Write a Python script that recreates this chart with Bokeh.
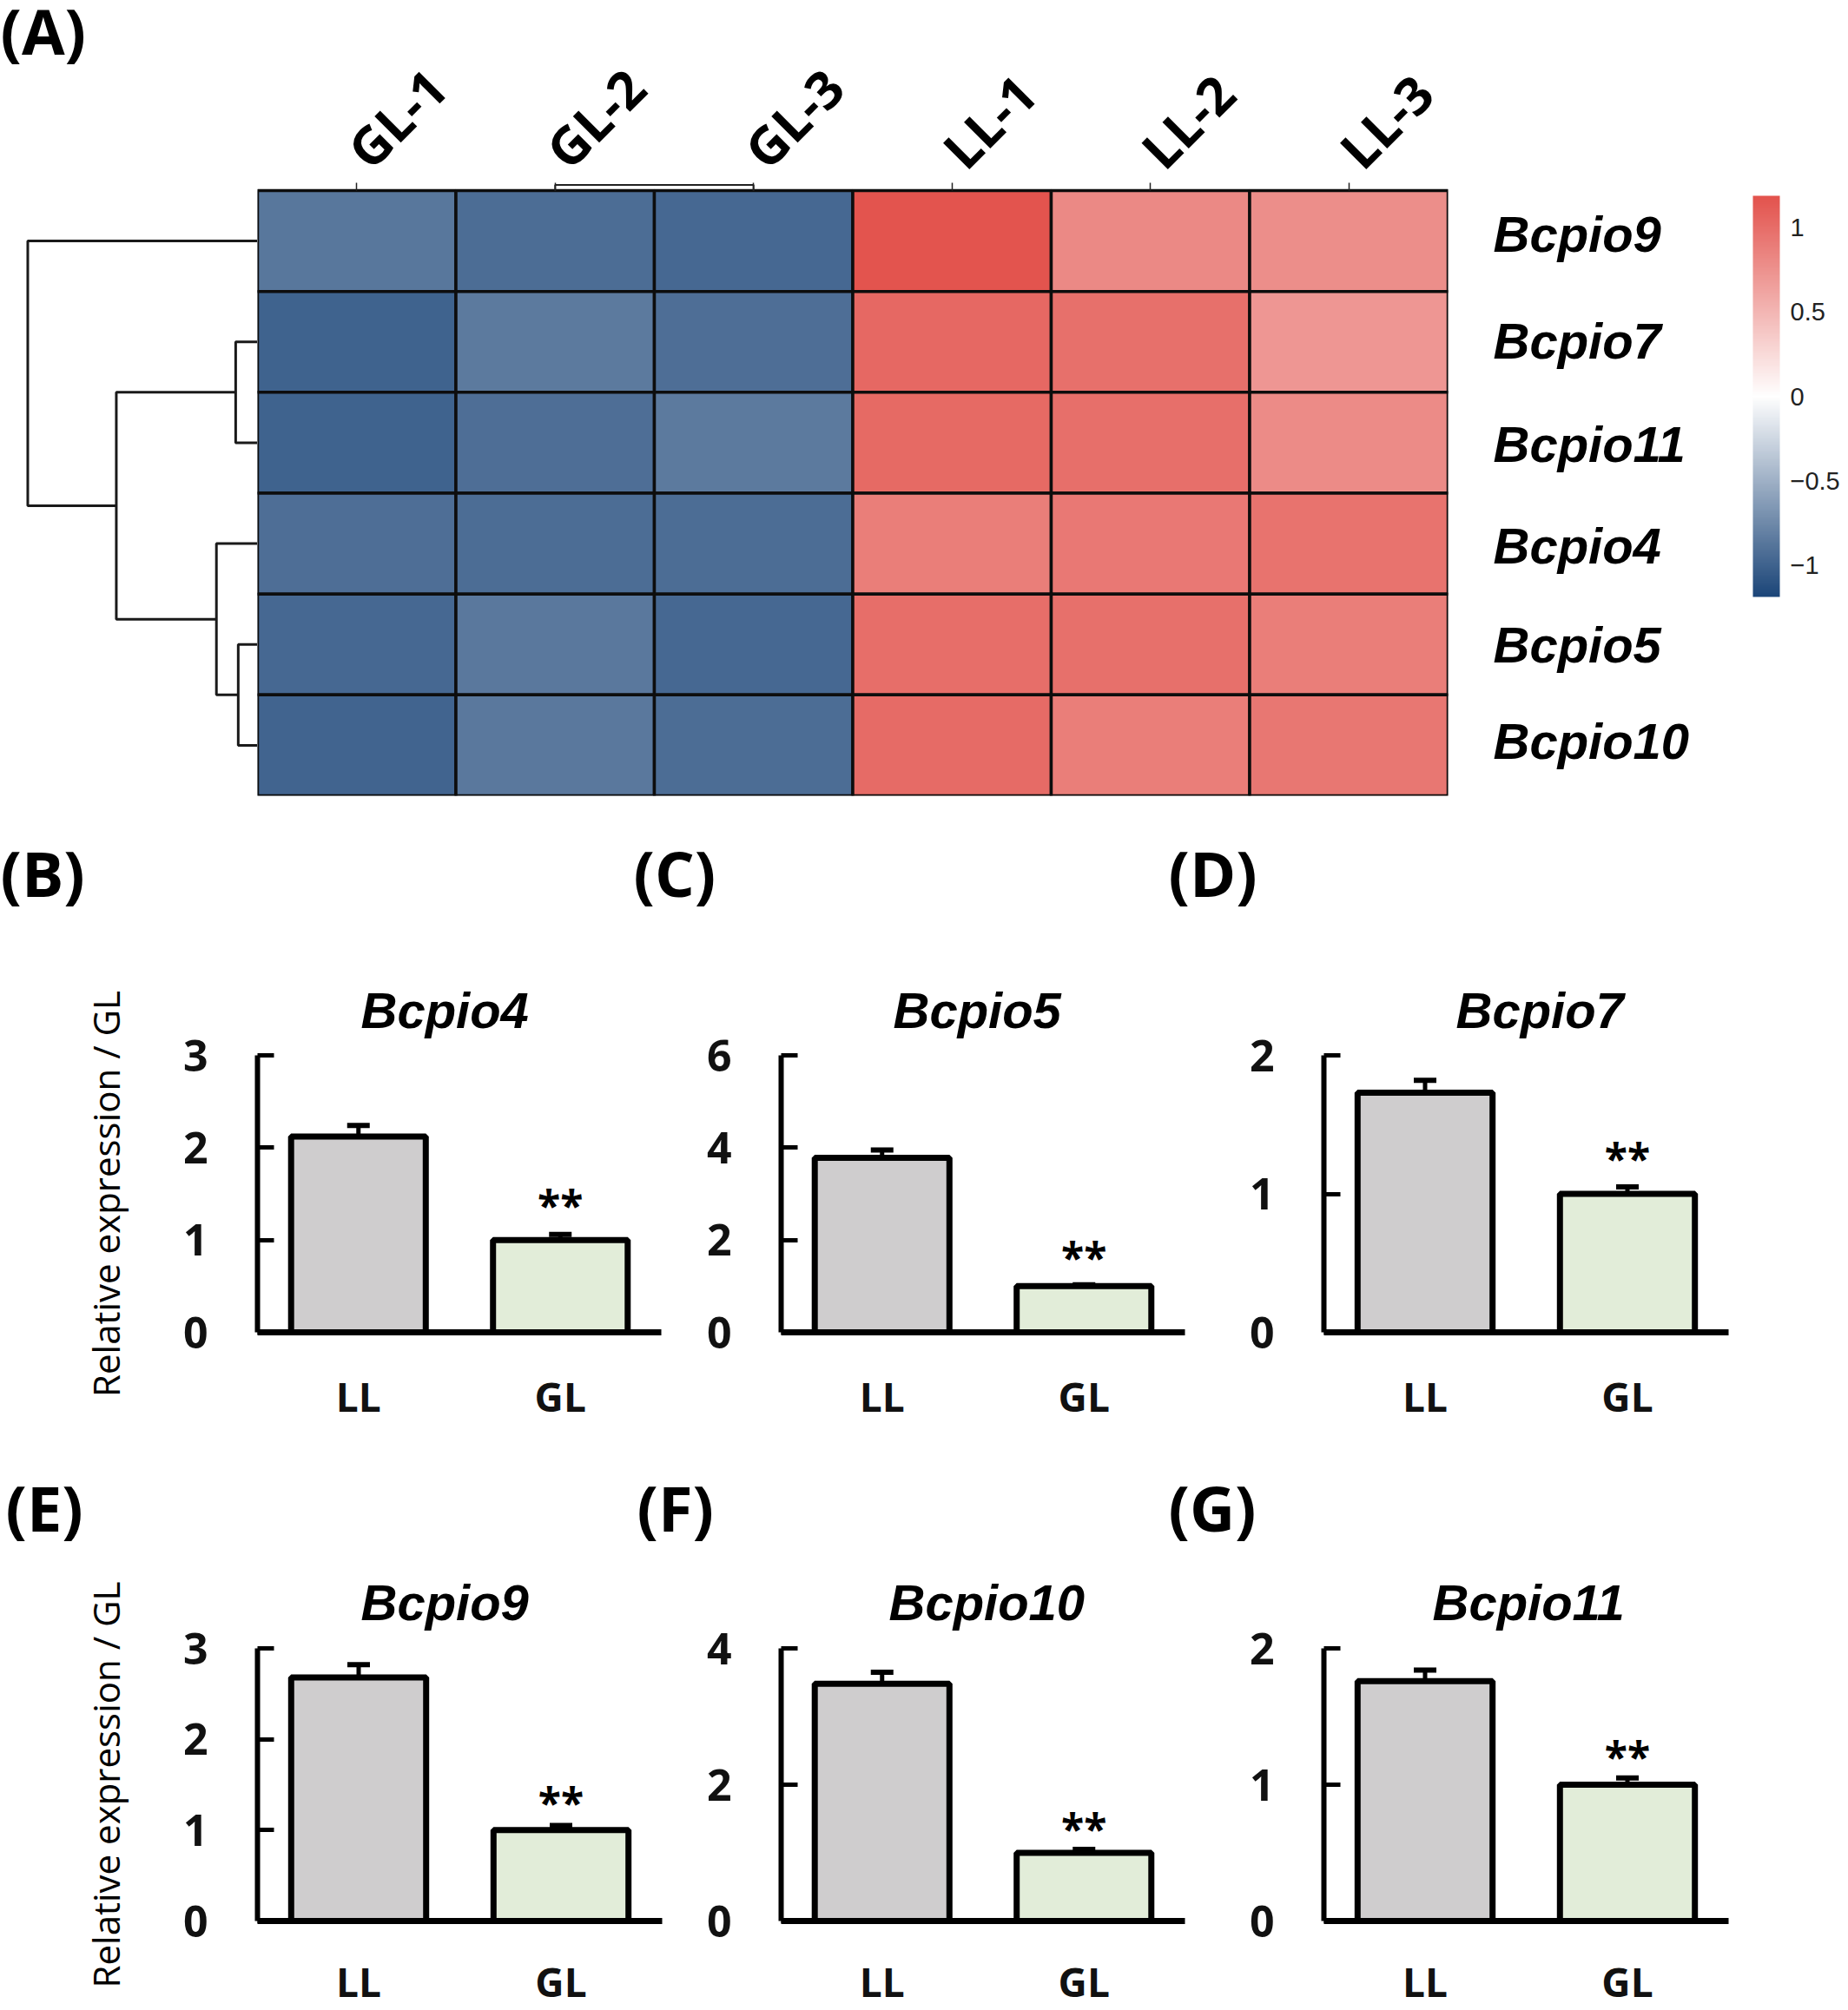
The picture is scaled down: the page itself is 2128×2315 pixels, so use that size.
from math import pi

from bokeh.core.properties import value
from bokeh.embed import file_html
from bokeh.layouts import column, row
from bokeh.models import (ColorBar, ColumnDataSource, FixedTicker,
                          LinearAxis, LinearColorMapper, Range1d, TeeHead, Whisker)
from bokeh.palettes import interp_palette
from bokeh.plotting import figure
from bokeh.resources import INLINE
from bokeh.transform import transform

# heatmap data
samples = ["GL-1", "GL-2", "GL-3", "LL-1", "LL-2", "LL-3"]
heat_genes = ["Bcpio9", "Bcpio7", "Bcpio11", "Bcpio4", "Bcpio5", "Bcpio10"]
bcpio9_row = [-0.87, -0.93, -0.96, 1.18, 0.81, 0.77]
bcpio7_row = [-1.00, -0.85, -0.92, 1.04, 0.98, 0.72]
bcpio11_row = [-1.00, -0.92, -0.85, 1.03, 0.99, 0.79]
bcpio4_row = [-0.92, -0.93, -0.93, 0.89, 0.92, 0.96]
bcpio5_row = [-0.96, -0.86, -0.96, 1.00, 0.98, 0.89]
bcpio10_row = [-0.99, -0.86, -0.93, 1.02, 0.89, 0.93]
heat_rows = [bcpio9_row, bcpio7_row, bcpio11_row, bcpio4_row, bcpio5_row, bcpio10_row]
legend_ticks = [-1, -0.5, 0, 0.5, 1]

# row dendrogram, one entry per merge
merge_height = [17, 15, 32, 110, 179]
merge_top = [4.5, 1.5, 2.5, 4.0, 5.5]
merge_bottom = [3.5, 0.5, 1.0, 1.75, 2.875]
merge_top_child = [0, 0, 0, 17, 0]
merge_bottom_child = [0, 0, 15, 32, 110]

# column dendrogram, GL-2 and GL-3 only
col_merge_xs = [1.5, 1.5, 2.5, 2.5]
col_merge_ys = [6, 6.055, 6.055, 6]

# bar panels
bar_genes = ["Bcpio4", "Bcpio5", "Bcpio7", "Bcpio9", "Bcpio10", "Bcpio11"]
groups = ["LL", "GL"]
ll_means = [2.12, 3.78, 1.73, 2.68, 3.48, 1.76]
gl_means = [1.0, 1.0, 1.0, 1.0, 1.0, 1.0]
ll_errors = [0.12, 0.17, 0.09, 0.14, 0.17, 0.08]
gl_errors = [0.06, 0.03, 0.05, 0.05, 0.05, 0.05]
y_tops = [3, 6, 2, 3, 4, 2]
y_tick_lists = [[0, 1, 2, 3], [0, 2, 4, 6], [0, 1, 2], [0, 1, 2, 3], [0, 2, 4], [0, 1, 2]]
star_heights = [1.38, 1.63, 1.26, 1.31, 1.36, 1.21]
panel_letters = ["(B)", "(C)", "(D)", "(E)", "(F)", "(G)"]
title_offsets = [119, 129, 152, 119, 124, 125]

HEAD_FONT = "Open Sans"
GENE_FONT = "Liberation Sans"


def letter_strip(width, height, letter_list, letter_pos, y):
    strip = figure(width=width, height=height, x_range=Range1d(0, width), y_range=Range1d(0, height),
                   min_border=0, output_backend="svg", toolbar_location=None, outline_line_color=None)
    strip.axis.visible = False
    strip.grid.visible = False
    strip.text(x=letter_pos, y=[y] * len(letter_list), text=letter_list, text_font=value(HEAD_FONT),
               text_font_style="bold", text_font_size="72px", text_baseline="middle", text_color="black")
    return strip


strip0 = letter_strip(296, 78, ["(A)"], [0], 44)

# left dendrogram
dendro = figure(width=296, height=858, x_range=Range1d(200.3, 0), y_range=Range1d(0, 6.0775),
                min_border_left=0, min_border_right=0, min_border_top=132, min_border_bottom=20,
                output_backend="svg", toolbar_location=None, outline_line_color=None)
dendro.axis.visible = False
dendro.grid.visible = False
tree_xs = []
tree_ys = []
for i in range(len(merge_height)):
    tree_xs.append([merge_top_child[i], merge_height[i], merge_height[i], merge_bottom_child[i]])
    tree_ys.append([merge_top[i], merge_top[i], merge_bottom[i], merge_bottom[i]])
dendro.multi_line(tree_xs, tree_ys, line_color="#1a1a1a", line_width=3)

# heatmap
heat_x = []
heat_y = []
heat_v = []
for r, values in enumerate(heat_rows):
    for c, v in enumerate(values):
        heat_x.append(c + 0.5)
        heat_y.append(len(heat_rows) - r - 0.5)
        heat_v.append(v)
heat_source = ColumnDataSource(dict(x=heat_x, y=heat_y, v=heat_v))
mapper = LinearColorMapper(palette=interp_palette(["#1C4679", "#FFFFFF", "#E3534D"], 255),
                           low=-1.19, high=1.19)

heat = figure(width=1832, height=936, x_range=Range1d(0, 6), y_range=dendro.y_range,
              x_axis_location="above", y_axis_location=None,
              min_border_left=0, min_border_right=461, min_border_top=210, min_border_bottom=20,
              output_backend="svg", toolbar_location=None, outline_line_color=None)
heat.grid.visible = False
heat.rect("x", "y", width=1, height=1, source=heat_source, fill_color=transform("v", mapper),
          line_color="#0d0d0d", line_width=3.5)
heat.line(col_merge_xs, col_merge_ys, line_color="#222222", line_width=2)

top_axis = heat.xaxis[0]
top_axis.ticker = FixedTicker(ticks=[c + 0.5 for c in range(len(samples))])
top_axis.major_label_overrides = {c + 0.5: s for c, s in enumerate(samples)}
top_axis.major_label_orientation = pi / 4
top_axis.major_label_text_font = HEAD_FONT
top_axis.major_label_text_font_style = "bold"
top_axis.major_label_text_font_size = "60px"
top_axis.major_label_text_color = "black"
top_axis.major_label_standoff = 28
top_axis.axis_line_color = None
top_axis.minor_tick_line_color = None
top_axis.major_tick_in = 9
top_axis.major_tick_out = 0
top_axis.major_tick_line_width = 1.5
top_axis.major_tick_line_color = "#222222"

label_rows = [5.57, 4.51, 3.49, 2.48, 1.5, 0.54]
gene_axis = LinearAxis(ticker=FixedTicker(ticks=label_rows),
                       major_label_overrides={y: g for y, g in zip(label_rows, heat_genes)},
                       major_label_text_font=GENE_FONT, major_label_text_font_style="bold italic",
                       major_label_text_font_size="58px", major_label_text_color="black",
                       major_label_standoff=46, axis_line_color=None, major_tick_line_color=None,
                       minor_tick_line_color=None)
heat.add_layout(gene_axis, "right")

legend = ColorBar(color_mapper=mapper, ticker=FixedTicker(ticks=legend_ticks), width=31, height=462,
                  location=(1722, 229), padding=0, major_tick_line_color=None, bar_line_color=None,
                  major_label_overrides={-1: "\u22121", -0.5: "\u22120.5", 0: "0", 0.5: "0.5", 1: "1"},
                  major_label_text_font=GENE_FONT, major_label_text_font_size="29px",
                  major_label_text_color="#222222", label_standoff=12, background_fill_alpha=0)
heat.add_layout(legend, "center")


def bar_panel(i, fig_left, fig_right, frame_left, frame_right, fig_top, fig_bottom, frame_top, frame_bottom,
              title_standoff, x_standoff, with_label):
    p = figure(width=fig_right - fig_left, height=fig_bottom - fig_top, x_range=groups,
               y_range=Range1d(0, y_tops[i]), title=bar_genes[i],
               min_border_left=frame_left - fig_left, min_border_right=fig_right - frame_right,
               min_border_top=frame_top - fig_top, min_border_bottom=fig_bottom - frame_bottom,
               output_backend="svg", toolbar_location=None, outline_line_color=None)
    p.grid.visible = False
    p.title.text_font = GENE_FONT
    p.title.text_font_style = "bold italic"
    p.title.text_font_size = "58px"
    p.title.text_color = "black"
    p.title.align = "left"
    p.title.offset = title_offsets[i]
    p.title.standoff = title_standoff

    src = ColumnDataSource(dict(group=groups, mean=[ll_means[i], gl_means[i]],
                                upper=[ll_means[i] + ll_errors[i], gl_means[i] + gl_errors[i]],
                                color=["#CFCDCE", "#E2EDD9"]))
    whisk = Whisker(base="group", lower="mean", upper="upper", source=src, line_color="black", line_width=5,
                    upper_head=TeeHead(size=26, line_color="black", line_width=6), lower_head=None)
    p.add_layout(whisk)
    p.vbar(x="group", top="mean", bottom=0, width=0.667, source=src, fill_color="color",
           line_color="black", line_width=7)
    p.text(x=["GL"], y=[star_heights[i]], text=["**"], text_font=value(HEAD_FONT), text_font_style="bold",
           text_font_size="48px", text_align="center", text_baseline="middle", text_color="black")

    p.yaxis.ticker = FixedTicker(ticks=y_tick_lists[i])
    p.yaxis.minor_tick_line_color = None
    p.yaxis.major_tick_in = 19
    p.yaxis.major_tick_out = 0
    p.yaxis.major_tick_line_width = 5
    p.yaxis.major_tick_line_color = "black"
    p.yaxis.axis_line_width = 6
    p.yaxis.axis_line_color = "black"
    p.yaxis.major_label_standoff = 57

    p.xaxis.major_tick_line_color = None
    p.xaxis.axis_line_width = 7
    p.xaxis.axis_line_color = "black"
    p.xaxis.major_label_standoff = x_standoff

    p.axis.major_label_text_font = HEAD_FONT
    p.axis.major_label_text_font_style = "bold"
    p.axis.major_label_text_color = "#111111"
    p.yaxis.major_label_text_font_size = "50px"
    p.xaxis.major_label_text_font_size = "46px"

    if with_label:
        p.yaxis.axis_label = "Relative expression / GL"
        p.yaxis.axis_label_text_font = HEAD_FONT
        p.yaxis.axis_label_text_font_style = "normal"
        p.yaxis.axis_label_text_font_size = "42px"
        p.yaxis.axis_label_text_color = "black"
        p.yaxis.axis_label_standoff = 58
    return p


strip1 = letter_strip(2128, 154, panel_letters[:3], [0, 729, 1345], 86)
strip2 = letter_strip(2128, 134, panel_letters[3:], [6, 733, 1345], 49)

panel_b = bar_panel(0, 0, 773, 296, 761, 1090, 1650, 1215, 1534, 39, 36, True)
panel_c = bar_panel(1, 773, 1375, 899, 1364, 1090, 1650, 1215, 1534, 39, 36, False)
panel_d = bar_panel(2, 1375, 2128, 1524, 1990, 1090, 1650, 1215, 1534, 39, 36, False)
panel_e = bar_panel(3, 0, 773, 296, 762, 1784, 2315, 1898, 2217, 42, 32, True)
panel_f = bar_panel(4, 773, 1375, 899, 1364, 1784, 2315, 1898, 2217, 42, 32, False)
panel_g = bar_panel(5, 1375, 2128, 1524, 1990, 1784, 2315, 1898, 2217, 42, 32, False)

page = column(row(column(strip0, dendro), heat), strip1, row(panel_b, panel_c, panel_d), strip2,
              row(panel_e, panel_f, panel_g))
open("out.html", "w").write(file_html(page, INLINE))
